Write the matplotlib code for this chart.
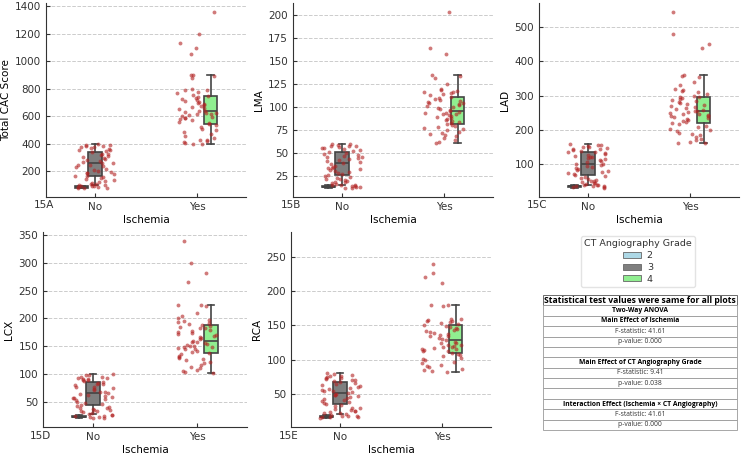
import numpy as np
import matplotlib.pyplot as plt
from matplotlib.patches import Patch

plt.rcParams['font.family'] = 'DejaVu Sans'
plt.rcParams['font.size'] = 7.5

# values per group: grade 2 (Ischemia No), grade 3 (Ischemia No), grade 4 (Ischemia Yes)
cac_g2 = [78, 80, 82, 85, 88, 92, 95, 97]
cac_g3 = [100, 102, 105, 112, 118, 125, 130, 140, 148, 152, 158, 165, 170,
          178, 185, 190, 195, 205, 212, 220, 230, 238, 245, 250, 258,
          262, 268, 275, 280, 290, 300, 305, 312, 318, 325, 330, 338,
          345, 352, 358, 362, 370, 375, 380, 385, 388, 392, 395, 398]
cac_g4 = [400, 402, 405, 415, 420, 425, 430, 445, 460, 470, 485, 500, 510, 525, 540, 548,
          555, 560, 570, 578, 585, 590, 598, 605, 610, 615, 620, 625, 628, 632, 637,
          642, 650, 658, 665, 672, 680, 690, 698, 705, 712, 720, 728, 735, 740, 745,
          755, 770, 780, 790, 795, 800, 880, 890, 900, 900,
          1050, 1100, 1130, 1200, 1360]

lma_g2 = [11.5, 12, 12.5, 13, 13.5, 14, 14.5, 15]
lma_g3 = [15, 16, 17, 18, 18.5, 19, 20, 21, 22, 23, 24, 25, 26,
          27, 28, 29, 30, 31, 32, 33, 34, 35, 36, 37.5, 39,
          40, 41, 42, 43, 44, 45, 46, 47, 48, 49, 50, 51,
          52, 53, 54, 55, 55.5, 56, 57, 57.5, 58, 59, 59.5, 60]
lma_g4 = [60.5, 62, 64, 66, 68, 70, 71, 72, 73, 75, 76, 77, 78, 79, 80.5, 82,
          83, 84, 85, 86, 87, 88, 89, 90, 91, 92, 93, 93.5, 94, 95, 95.6,
          97, 98, 99, 100, 101, 102, 103, 104, 105, 106, 107, 108, 109, 110, 111.5,
          113, 114, 115, 116, 117, 118, 119, 120, 125, 132, 134, 135,
          158, 165, 204]

lad_g2 = [30, 32, 34, 35, 36, 37, 38, 40]
lad_g3 = [40, 42, 44, 46, 48, 50, 52, 55, 57, 60, 63, 66, 68,
          71, 74, 77, 80, 83, 86, 89, 92, 95, 98, 100, 102,
          105, 108, 111, 114, 117, 120, 122, 125, 128, 130, 132, 135,
          137, 139, 141, 143, 145, 147, 149, 151, 153, 155, 157, 159]
lad_g4 = [161, 163, 165, 170, 175, 180, 185, 188, 192, 196, 200, 204, 208, 212, 216, 219,
          222, 225, 228, 231, 234, 237, 240, 242, 244, 246, 248, 250, 252, 254, 255,
          258, 261, 264, 267, 270, 273, 276, 279, 282, 285, 288, 290, 292, 295, 297,
          300, 305, 310, 315, 318, 320, 330, 340, 355, 358, 360,
          440, 452, 480, 545]

lcx_g2 = [20, 21, 22, 22.5, 23, 24, 25, 26]
lcx_g3 = [27, 29, 31, 32, 33, 34, 35, 36, 38, 39, 41, 42.5, 44,
          46, 48, 50, 52, 54, 56, 57, 58, 60, 61, 63, 65,
          67, 68, 70, 72, 74, 76, 77, 79, 81, 82, 84, 85.5,
          87, 88, 89, 90, 91, 92, 93, 94, 95, 97, 98, 100]
lcx_g4 = [101, 103, 105, 107, 110, 113, 116, 119, 122, 125, 127, 129, 131, 133, 135, 138,
          140, 142, 144, 145, 146, 148, 149, 150, 151, 152, 154, 155, 157, 158, 160,
          162, 164, 166, 168, 170, 172, 174, 176, 178, 180, 182, 183, 185, 186, 188,
          190, 192, 194, 196, 198, 200, 205, 210, 222, 224, 225,
          265, 282, 300, 340]

rca_g2 = [15, 16, 16.5, 17, 17.5, 18, 18.5, 19]
rca_g3 = [21, 22, 23, 24, 25, 26, 27, 28, 29, 30, 32, 33.5, 35,
          37, 38, 40, 41, 43, 44, 46, 47, 48, 49, 50.5, 52,
          53, 54, 55, 56, 58, 59, 60, 62, 63, 65, 66.5, 68,
          69, 70, 71, 72, 73, 74, 75, 76, 77, 78, 79, 80]
rca_g4 = [81.5, 83, 85, 87, 89, 91, 93, 95, 97, 99, 101, 103, 105, 107, 109, 110.5,
          112, 113, 114, 115, 116, 117, 118, 119, 120, 121, 122, 124, 125, 126.5, 128,
          130, 132, 134, 135, 136, 138, 139, 141, 142, 144, 145, 146, 148, 149, 150.7,
          152, 154, 155, 156, 157, 158, 159, 160, 178, 179, 180,
          212, 220, 226, 240]

ylabels = ['Total CAC Score', 'LMA', 'LAD', 'LCX', 'RCA']
tags = ['15A', '15B', '15C', '15D', '15E']
grades = ['2', '3', '4']
grade_colors = ['#add8e6', '#7f7f7f', '#90ee90']
ischemia = ['No', 'Yes']

table_rows = ['Statistical test values were same for all plots',
              'Two-Way ANOVA',
              'Main Effect of Ischemia',
              'F-statistic: 41.61',
              'p-value: 0.000',
              '',
              'Main Effect of CT Angiography Grade',
              'F-statistic: 9.41',
              'p-value: 0.038',
              '',
              'Interaction Effect (Ischemia \u00d7 CT Angiography)',
              'F-statistic: 41.61',
              'p-value: 0.000']
bold_rows = [0, 1, 2, 6, 10]

data = [(cac_g2, cac_g3, cac_g4), (lma_g2, lma_g3, lma_g4), (lad_g2, lad_g3, lad_g4),
        (lcx_g2, lcx_g3, lcx_g4), (rca_g2, rca_g3, rca_g4)]

W, H = 750, 461
fig = plt.figure(figsize=(7.5, 4.61), dpi=100)

# axes boxes in pixels: left, top, right, bottom
boxes = [(46, 3, 246, 197), (293, 3, 493, 197), (539, 3, 739, 197),
         (43, 232, 247, 427), (291, 232, 491, 427)]

edge = '#444444'
rng = np.random.default_rng(3)

for i, (g2, g3, g4) in enumerate(data):
    l, t, r, b = boxes[i]
    ax = fig.add_axes([l / W, 1 - b / H, (r - l) / W, (b - t) / H])
    pos = [-0.133, 0, 1.133]
    bp = ax.boxplot([g2, g3, g4], positions=pos, widths=0.13, patch_artist=True,
                    showfliers=False,
                    boxprops=dict(edgecolor=edge, linewidth=1.2),
                    whiskerprops=dict(color=edge, linewidth=1.2),
                    capprops=dict(color=edge, linewidth=1.2),
                    medianprops=dict(color=edge, linewidth=1.2))
    for patch, c in zip(bp['boxes'], grade_colors):
        patch.set_facecolor(c)

    # strip of all points per ischemia group
    for xi, vals in [(0, g2 + g3), (1, g4)]:
        jit = rng.uniform(-0.2, 0.2, len(vals))
        ax.plot(xi + jit, vals, 'o', ms=2.8, color='firebrick', alpha=0.6,
                mew=0, zorder=4)

    ax.set_xticks([0, 1])
    ax.set_xticklabels(ischemia)
    ax.set_xlim(-0.48, 1.48)
    if i == 4:
        ax.set_ylim(2, 286)
    ax.set_xlabel('Ischemia', labelpad=2)
    ax.set_ylabel(ylabels[i], labelpad=3)
    ax.grid(axis='y', linestyle='--', color='#cccccc', linewidth=0.7)
    ax.set_axisbelow(True)
    for s in ['top', 'right']:
        ax.spines[s].set_visible(False)
    for s in ['left', 'bottom']:
        ax.spines[s].set_color('#333333')
    ax.tick_params(direction='in', length=3, colors='#333333', labelsize=7.5)
    ax.text(0.04, -0.018, tags[i], transform=ax.transAxes, ha='right', va='top',
            fontsize=7.5, color='#333333')

handles = [Patch(facecolor=c, edgecolor='#666666', linewidth=0.6) for c in grade_colors]
leg = fig.legend(handles, grades, title='CT Angiography Grade', loc='center',
                 bbox_to_anchor=(638 / W, 1 - 261.5 / H), fontsize=6.8, title_fontsize=6.8,
                 frameon=True, edgecolor='#dddddd', handlelength=1.9, handleheight=0.6,
                 labelspacing=0.3, borderpad=0.35, handletextpad=0.6)
leg.get_title().set_color('#333333')
for t in leg.get_texts():
    t.set_color('#333333')

tax = fig.add_axes([543 / W, 1 - 430 / H, 194 / W, 135 / H])
tax.axis('off')
tbl = tax.table(cellText=[[r] for r in table_rows], cellLoc='center', bbox=[0, 0, 1, 1])
tbl.auto_set_font_size(False)
for (row, col), cell in tbl.get_celld().items():
    cell.set_edgecolor('#999999')
    cell.set_linewidth(0.6)
    txt = cell.get_text()
    txt.set_fontfamily('Open Sans')
    if row == 0:
        txt.set_fontsize(6.2)
        txt.set_fontweight('bold')
        cell.set_edgecolor('#555555')
    elif row in bold_rows:
        txt.set_fontsize(4.9)
        txt.set_fontweight('bold')
    else:
        txt.set_fontsize(4.9)
        txt.set_color('#333333')

fig.savefig('out.png', dpi=100)
plt.close(fig)
